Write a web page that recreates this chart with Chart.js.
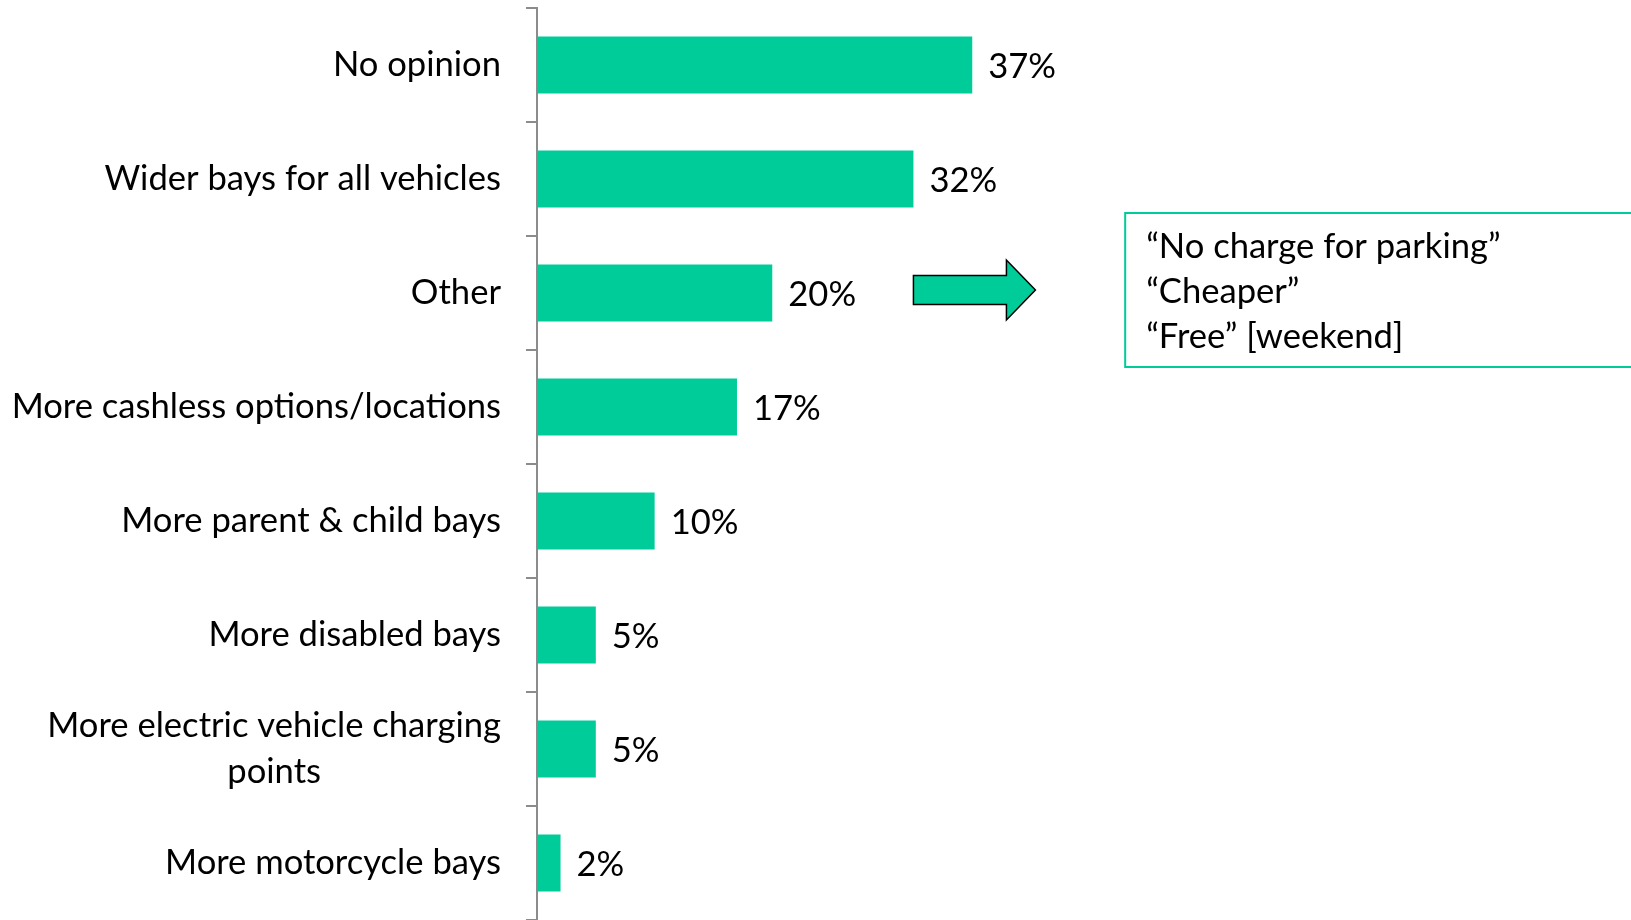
<!DOCTYPE html>
<html>
<head>
<meta charset="utf-8">
<script src="https://cdn.jsdelivr.net/npm/chart.js@4"></script>
<style>
    body { margin: 0; background: #fff; }
    canvas { display: block; }
</style>
</head>
<body>
<canvas id="barChart" width="1631" height="920"></canvas>
<script>
const categories = [
    'No opinion',
    'Wider bays for all vehicles',
    'Other',
    'More cashless options/locations',
    'More parent & child bays',
    'More disabled bays',
    ['More electric vehicle charging', 'points'],
    'More motorcycle bays'
];
const values = [37, 32, 20, 17, 10, 5, 5, 2];
const otherQuotes = ['\u201CNo charge for parking\u201D', '\u201CCheaper\u201D', '\u201CFree\u201D [weekend]'];

const barColor = '#00cc99';
const axisColor = '#8c8c8c';
const fontFamily = 'Lato, "Open Sans", sans-serif';
const fontSize = 34.6;

// y labels: right-aligned block, lines centred inside the block
const categoryLabels = {
    id: 'categoryLabels',
    afterDraw(chart) {
        const ctx = chart.ctx;
        const yScale = chart.scales.y;
        const right = yScale.right - 36;
        ctx.save();
        ctx.font = `${fontSize}px ${fontFamily}`;
        ctx.fillStyle = '#000';
        ctx.textAlign = 'center';
        ctx.textBaseline = 'middle';
        categories.forEach((label, i) => {
            const lines = Array.isArray(label) ? label : [label];
            const blockW = Math.max(...lines.map(l => ctx.measureText(l).width));
            const y = yScale.getPixelForValue(i);
            lines.forEach((line, j) => {
                ctx.fillText(line, right - blockW / 2, y + (j - (lines.length - 1) / 2) * 46);
            });
        });
        ctx.restore();
    }
};

// value labels at bar ends
const valueLabels = {
    id: 'valueLabels',
    afterDatasetsDraw(chart) {
        const ctx = chart.ctx;
        ctx.save();
        ctx.font = `${fontSize}px ${fontFamily}`;
        ctx.fillStyle = '#000';
        ctx.textAlign = 'left';
        ctx.textBaseline = 'middle';
        chart.getDatasetMeta(0).data.forEach((bar, i) => {
            ctx.fillText(values[i] + '%', bar.x + 16, bar.y + 2);
        });
        ctx.restore();
    }
};

// arrow + quote box next to "Other"
const otherCallout = {
    id: 'otherCallout',
    afterDraw(chart) {
        const ctx = chart.ctx;
        const xScale = chart.scales.x;
        const bar = chart.getDatasetMeta(0).data[2];
        const cy = bar.y - 3;

        const x0 = xScale.getPixelForValue(32);
        const xNeck = x0 + 93;
        const xTip = x0 + 122;
        ctx.save();
        ctx.beginPath();
        ctx.moveTo(x0, cy - 14.5);
        ctx.lineTo(xNeck, cy - 14.5);
        ctx.lineTo(xNeck, cy - 30);
        ctx.lineTo(xTip, cy);
        ctx.lineTo(xNeck, cy + 30);
        ctx.lineTo(xNeck, cy + 14.5);
        ctx.lineTo(x0, cy + 14.5);
        ctx.closePath();
        ctx.fillStyle = barColor;
        ctx.fill();
        ctx.lineWidth = 1.5;
        ctx.strokeStyle = '#000';
        ctx.stroke();

        const boxL = xScale.getPixelForValue(50);
        const boxT = cy - 77;
        const boxH = 154;
        ctx.lineWidth = 2;
        ctx.strokeStyle = barColor;
        ctx.strokeRect(boxL, boxT, chart.width - boxL + 10, boxH);

        ctx.font = `${fontSize}px ${fontFamily}`;
        ctx.fillStyle = '#000';
        ctx.textAlign = 'left';
        ctx.textBaseline = 'middle';
        otherQuotes.forEach((q, i) => {
            ctx.fillText(q, boxL + 21, boxT + 34 + i * 44.7);
        });
        ctx.restore();
    }
};

new Chart(document.getElementById('barChart'), {
    type: 'bar',
    data: {
        labels: categories,
        datasets: [{
            data: values,
            backgroundColor: barColor,
            borderWidth: 0,
            categoryPercentage: 0.5,
            barPercentage: 1
        }]
    },
    options: {
        indexAxis: 'y',
        responsive: false,
        animation: false,
        layout: {
            padding: { top: 8, right: 0, bottom: 0, left: 0 }
        },
        scales: {
            x: {
                display: false,
                min: 0,
                max: 93
            },
            y: {
                ticks: { display: false },
                grid: {
                    drawOnChartArea: false,
                    drawTicks: true,
                    tickLength: 11,
                    color: axisColor,
                    lineWidth: 2,
                    offset: true
                },
                border: {
                    display: true,
                    color: axisColor,
                    width: 2
                },
                afterFit(scale) {
                    scale.width = 537;
                }
            }
        },
        plugins: {
            legend: { display: false },
            tooltip: { enabled: false }
        }
    },
    plugins: [categoryLabels, valueLabels, otherCallout]
});
</script>
</body>
</html>
